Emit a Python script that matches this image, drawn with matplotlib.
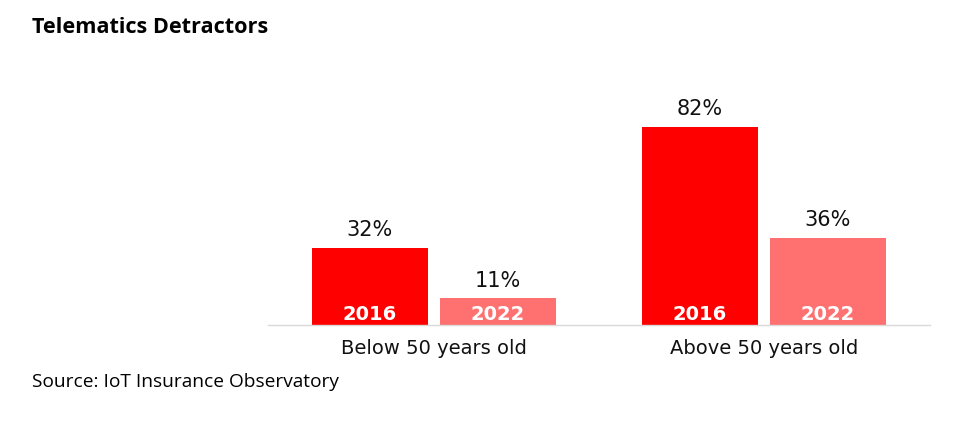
import matplotlib.pyplot as plt
import numpy as np

plt.rcParams["font.family"] = ["Open Sans", "DejaVu Sans"]

groups = ["Below 50 years old", "Above 50 years old"]
years = ["2016", "2022"]
values_2016 = [32, 82]
values_2022 = [11, 36]
colors = {"2016": "#FF0000", "2022": "#FF7070"}

fig = plt.figure(figsize=(9.71, 4.21), dpi=100)
ax = fig.add_axes([268 / 971, 96 / 421, 662 / 971, 241.5 / 421])

x = np.arange(len(groups))
width = 0.352
offset = 0.194
chart_font = "DejaVu Sans"

for vals, year, sign in [(values_2016, "2016", -1), (values_2022, "2022", 1)]:
    bars = ax.bar(x + sign * offset, vals, width=width, color=colors[year])
    for bar, v in zip(bars, vals):
        cx = bar.get_x() + bar.get_width() / 2
        ax.text(cx, v + 4.9, f"{v}%", ha="center", va="baseline",
                fontsize=15, family=chart_font, color="#111111")
        ax.text(cx, 2.1, year, ha="center", va="baseline",
                fontsize=14, fontweight="bold", family=chart_font, color="white")

for gx, name in zip(x, groups):
    ax.text(gx, -12, name, ha="center", va="baseline", fontsize=14,
            family=chart_font, color="#111111", clip_on=False)

ax.set_xlim(-0.503, 1.503)
ax.set_ylim(0, 100)
ax.set_xticks([])
ax.set_yticks([])
for side in ["top", "right", "left"]:
    ax.spines[side].set_visible(False)
ax.spines["bottom"].set_color("#D9D9D9")
ax.spines["bottom"].set_linewidth(1)

fig.text(32 / 971, 1 - 33 / 421, "Telematics Detractors", ha="left", va="baseline",
         fontsize=15.6, fontweight="bold")
fig.text(32 / 971, 1 - 387 / 421, "Source: IoT Insurance Observatory", ha="left", va="baseline",
         fontsize=13.8)

fig.savefig("out.png", dpi=100)
